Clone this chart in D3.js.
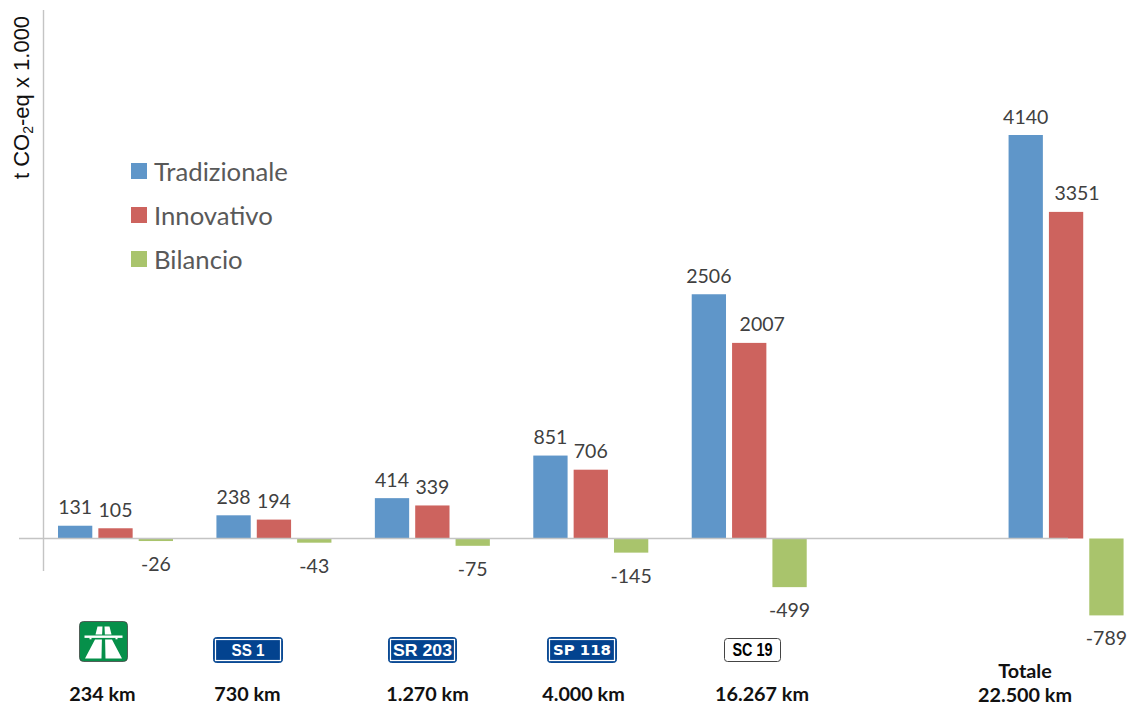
<!DOCTYPE html>
<html>
<head>
<meta charset="utf-8">
<script src="https://cdn.jsdelivr.net/npm/d3@7"></script>
<style>
  html, body { margin: 0; padding: 0; background: #fff; }
  svg { display: block; }
  text { font-family: Lato, "Open Sans", sans-serif; }
</style>
</head>
<body>
<svg></svg>
<script>
// the sixth category is empty in the original, it only leaves a gap before the total
const categories = ["Autostrade", "Statali", "Regionali", "Provinciali", "Comunali", "", "Totale"];
const seriesNames = ["Tradizionale", "Innovativo", "Bilancio"];
const tradizionale = [131, 238, 414, 851, 2506, null, 4140];
const innovativo = [105, 194, 339, 706, 2007, null, 3351];
const bilancio = [-26, -43, -75, -145, -499, null, -789];
const kmLabels = ["234 km", "730 km", "1.270 km", "4.000 km", "16.267 km"];
const totalLabels = ["Totale", "22.500 km"];

const colors = ["#5f96c9", "#cd635e", "#a9c46c"];
const seriesValues = [tradizionale, innovativo, bilancio];

const width = 1127;
const height = 705;

const svg = d3.select("svg").attr("width", width).attr("height", height);

const xScale = d3.scaleBand().domain(categories).range([37, 1146]);
const xInner = d3.scaleBand().domain(seriesNames).range([21, 136]).paddingInner(0.15);
const yScale = d3.scaleLinear().domain([0, 4140]).range([538.5, 135]);

// axes, drawn without ticks like the original
const axisColor = "#c4c4c4";
svg.append("line").attr("x1", 43.5).attr("x2", 43.5).attr("y1", 10).attr("y2", 571)
    .attr("stroke", axisColor).attr("stroke-width", 1.4);

const drawBars = () => {
    seriesNames.forEach((name, s) => {
        const rows = seriesValues[s]
            .map((v, i) => ({ cat: categories[i], value: v }))
            .filter((d) => d.value !== null);

        svg.append("g")
            .selectAll("rect")
            .data(rows)
            .enter()
            .append("rect")
            .attr("x", (d) => xScale(d.cat) + xInner(name))
            .attr("y", (d) => yScale(Math.max(0, d.value)))
            .attr("width", xInner.bandwidth())
            .attr("height", (d) => Math.abs(yScale(d.value) - yScale(0)))
            .attr("fill", colors[s]);

        svg.append("g")
            .selectAll("text")
            .data(rows)
            .enter()
            .append("text")
            .attr("x", (d) => {
                let nudge = 0;
                if (d.value === 2007) nudge = 13;
                if (d.value === 3351) nudge = 11;
                return xScale(d.cat) + xInner(name) + xInner.bandwidth() / 2 + nudge;
            })
            .attr("y", (d) => d.value < 0 ? yScale(d.value) + 30 : yScale(d.value) - 11.5)
            .attr("text-anchor", "middle")
            .attr("font-size", 19.5)
            .attr("fill", "#404040")
            .text((d) => d.value);
    });
};

const drawBaseline = () => {
    svg.append("line").attr("x1", 19).attr("x2", 1068).attr("y1", 538.5).attr("y2", 538.5)
        .attr("stroke", axisColor).attr("stroke-width", 1.4);
};

const drawLegend = () => {
    const legendY = d3.scalePoint().domain(seriesNames).range([171, 259]);
    const g = svg.append("g");
    g.selectAll("rect")
        .data(seriesNames)
        .enter()
        .append("rect")
        .attr("x", 131)
        .attr("y", (d) => legendY(d) - 8)
        .attr("width", 16)
        .attr("height", 16)
        .attr("fill", (d, i) => colors[i]);
    g.selectAll("text")
        .data(seriesNames)
        .enter()
        .append("text")
        .attr("x", 154)
        .attr("y", (d) => legendY(d) + 10)
        .attr("font-size", 25.7)
        .attr("fill", "#595959")
        .text((d) => d);
};

const drawYTitle = () => {
    const t = svg.append("text")
        .attr("transform", "translate(29,179) rotate(-90)")
        .attr("font-size", 22)
        .attr("fill", "#111")
        .style("font-family", "'Liberation Sans'");
    t.append("tspan").text("t CO");
    t.append("tspan").attr("dy", 4).attr("font-size", 14).text("2");
    t.append("tspan").attr("dy", -4).text("-eq x 1.000");
};

const drawSign = (x, y, w, h, label, fill, ink, font, size, textWidth) => {
    const g = svg.append("g");
    g.append("rect").attr("x", x).attr("y", y).attr("width", w).attr("height", h).attr("rx", 3)
        .attr("fill", fill).attr("stroke", fill === "#fff" ? "#444" : "#0b4a94").attr("stroke-width", 1);
    if (fill !== "#fff") {
        g.append("rect").attr("x", x + 2).attr("y", y + 2).attr("width", w - 4).attr("height", h - 4)
            .attr("fill", "#03438f").attr("stroke", "#fff").attr("stroke-width", 1.2);
    }
    g.append("text").attr("x", x + w / 2).attr("y", y + h / 2 + size * 0.36)
        .attr("text-anchor", "middle").attr("font-size", size).attr("font-weight", 700)
        .attr("textLength", textWidth).attr("lengthAdjust", "spacingAndGlyphs")
        .attr("fill", ink).style("font-family", font).text(label);
};

const drawMotorway = () => {
    const g = svg.append("g").attr("transform", "translate(79.5,621.5)");
    g.append("rect").attr("width", 48).attr("height", 40).attr("rx", 4)
        .attr("fill", "#06904a").attr("stroke", "#444").attr("stroke-width", 0.8);
    g.append("path").attr("fill", "#fff")
        .attr("d", "M18 5 L23 5 L22.6 13 L16 13 Z M25 5 L30 5 L32 13 L25.4 13 Z M15.5 18 L22.4 18 L22 37 L5.5 37 Z M25.6 18 L32.5 18 L42.5 37 L26 37 Z");
    g.append("rect").attr("x", 5).attr("y", 14).attr("width", 38).attr("height", 2.4).attr("fill", "#fff");
    g.append("rect").attr("x", 10).attr("y", 16).attr("width", 2).attr("height", 1.8).attr("fill", "#fff");
    g.append("rect").attr("x", 36).attr("y", 16).attr("width", 2).attr("height", 1.8).attr("fill", "#fff");
};

const drawFooter = () => {
    const kmX = [102.5, 247.5, 427.5, 583.5, 762];
    svg.append("g").selectAll("text")
        .data(kmLabels)
        .enter()
        .append("text")
        .attr("x", (d, i) => kmX[i])
        .attr("y", 701)
        .attr("text-anchor", "middle")
        .attr("font-size", 19.8)
        .attr("font-weight", 700)
        .attr("fill", "#111")
        .text((d) => d);
    svg.append("g").selectAll("text")
        .data(totalLabels)
        .enter()
        .append("text")
        .attr("x", 1025)
        .attr("y", (d, i) => 678 + i * 24)
        .attr("text-anchor", "middle")
        .attr("font-size", 19.8)
        .attr("font-weight", 700)
        .attr("fill", "#111")
        .text((d) => d);

    const plain = "'Liberation Sans'";
    const wide = "'DejaVu Sans'";
    drawMotorway();
    drawSign(213.5, 637.5, 69, 25, "SS 1", "#0b4a94", "#fff", plain, 16.5, 33);
    drawSign(388.5, 637.5, 68, 25, "SR 203", "#0b4a94", "#fff", plain, 16.5, 59);
    drawSign(547.5, 637.5, 69, 25, "SP 118", "#0b4a94", "#fff", wide, 13.5, 58);
    drawSign(724.5, 638.5, 56, 23, "SC 19", "#fff", "#000", plain, 18, 40);
};

drawBars();
drawBaseline();
drawLegend();
drawYTitle();
drawFooter();
</script>
</body>
</html>
